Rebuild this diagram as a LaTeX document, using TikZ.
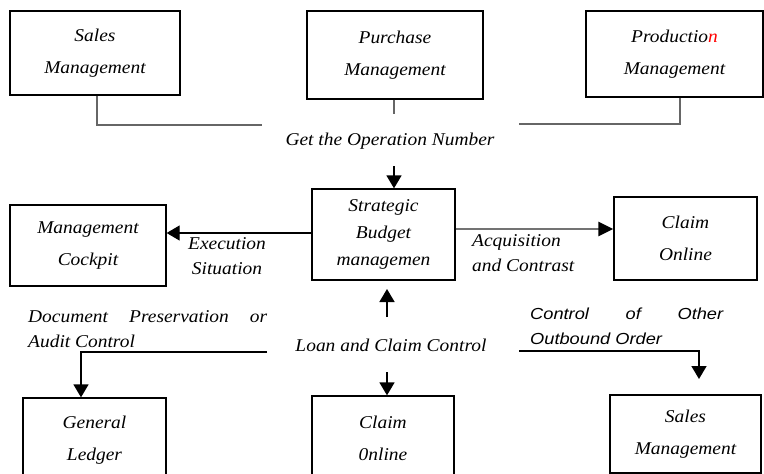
\documentclass[tikz,border=0pt]{standalone}
\usepackage{fontspec}
\setmainfont[FakeStretch=1.08]{Liberation Serif}
\newfontfamily\arialfont[FakeStretch=1.14]{Liberation Sans}
\usetikzlibrary{arrows.meta}
\begin{document}
\begin{tikzpicture}[x=1pt,y=-1pt,
  box/.style={draw=black,line width=1.3pt,inner sep=0pt,align=center,font=\fontsize{18}{22}\selectfont\itshape},
  lbl/.style={inner sep=0pt,font=\fontsize{18}{22}\selectfont\itshape},
  slbl/.style={inner sep=0pt,font=\fontsize{16}{20}\selectfont\arialfont\itshape},
  conn/.style={draw=black!60,line width=1.6pt},
  arr/.style={draw=black,line width=1.6pt,-{Triangle[length=13pt 0 0,width=15pt 0 0,color=black]}},
]
\useasboundingbox (0,0) rectangle (764,474);

% boxes
\node[box,minimum width=170pt,minimum height=84pt] (sales) at (95,53) {Sales\\[10pt]Management};
\node[box,minimum width=176pt,minimum height=88pt] (purchase) at (395,55) {Purchase\\[10pt]Management};
\node[box,minimum width=177pt,minimum height=86pt] (production) at (674.5,54) {Productio{\color{red}n}\\[10pt]Management};
\node[box,minimum width=156pt,minimum height=81pt] (cockpit) at (88,245.5) {Management\\[10pt]Cockpit};
\node[box,minimum width=143pt,minimum height=91pt] (strategic) at (383.5,234.5) {Strategic\\[5pt]Budget\\[5pt]managemen};
\node[box,minimum width=143pt,minimum height=83pt] (claimA) at (685.5,238.5) {Claim\\[10pt]Online};
\node[box,minimum width=143pt,minimum height=84pt] (ledger) at (94.5,440) {General\\[10pt]Ledger};
\node[box,minimum width=142pt,minimum height=84pt] (claimB) at (383,438) {Claim\\[10pt]0nline};
\node[box,minimum width=151pt,minimum height=78pt] (salesB) at (685.5,434) {Sales\\[10pt]Management};

% labels
\node[lbl] (opnum) at (390,141) {Get the Operation Number};
\node[lbl,align=center] (exec) at (227,256) {Execution\\[3pt]Situation};
\node[lbl,align=left,anchor=west] (acq) at (472,253.5) {Acquisition\\[3pt]and Contrast};
\node[lbl,align=left,anchor=west] (docp) at (28,329.5) {\makebox[239pt][s]{Document Preservation or}\\[3pt]Audit Control};
\node[lbl] (loan) at (391,345) {Loan and Claim Control};
\node[slbl,align=left,anchor=west] (ctrl) at (530,326.5) {\makebox[193pt][s]{Control of Other}\\[5pt]Outbound Order};

% free ends
\coordinate (gl) at (262,125);
\coordinate (pm) at (394,114);
\coordinate (gr) at (519,124);
\coordinate (a1) at (394,166);
\coordinate (u0) at (387,317);
\coordinate (u1) at (387,289);
\coordinate (d0) at (387,372);
\coordinate (dl) at (267,352);
\coordinate (dr) at (519,351);
\coordinate (er) at (699,379);

% connectors
\draw[conn] ([xshift=2pt]sales.south) |- (gl);
\draw[conn] (purchase.south -| pm) -- (pm);
\draw[conn] ([xshift=5.5pt]production.south) |- (gr);
\draw[arr] (a1) -- (a1 |- strategic.north);
\draw[arr,line width=1.1pt] (strategic.west |- 0,233) -- (cockpit.east |- 0,233);
\draw[arr,draw=black!55,line width=2.6pt,-{Triangle[length=15pt 0 0,width=14pt 0 0,color=black]}] (strategic.east |- 0,229) -- (claimA.west |- 0,229);
\draw[arr] (u0) -- (u1);
\draw[arr] (d0) -- (d0 |- claimB.north);
\draw[arr] (dl) -| (ledger.north -| 81,0);
\draw[arr] (dr) -| (er);
\end{tikzpicture}
\end{document}
